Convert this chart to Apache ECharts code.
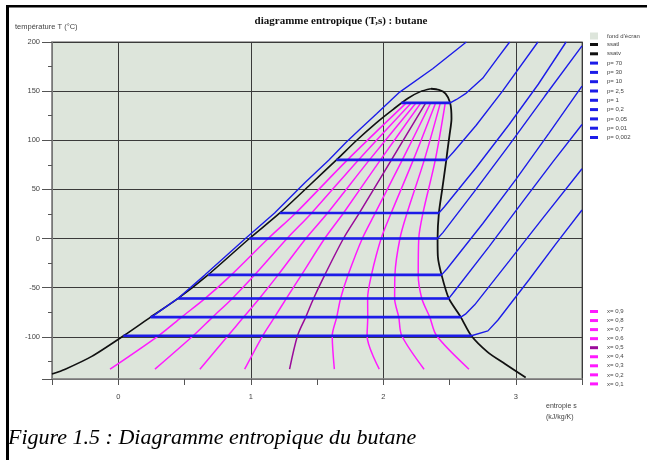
<!DOCTYPE html>
<html><head><meta charset="utf-8">
<script src="https://cdn.jsdelivr.net/npm/echarts@6/dist/echarts.min.js"></script>
<style>html,body{margin:0;padding:0;background:#fff}#c{width:647px;height:460px}</style>
</head><body><div id="c"></div><script>
// ---- data (entropy s in kJ/kg/K, temperature T in °C) ----
const satLiquid = [[-0.5,-138],[-0.40,-133],[-0.2,-120],[0.04,-99],[0.244,-80],[0.452,-61],[0.678,-37],[0.99,0],[1.22,26],[1.45,55],[1.647,80],[1.80,100],[1.95,118],[2.08,132],[2.19,143],[2.28,149.5],[2.36,152.4]];
const satVapour = [[2.36,152.4],[2.42,151.2],[2.47,147.5],[2.505,138],[2.515,122],[2.50,105],[2.485,90],[2.476,80],[2.445,50],[2.42,26],[2.41,0],[2.412,-18],[2.44,-37],[2.495,-61],[2.585,-80],[2.665,-99],[2.788,-115.6],[2.92,-127.7],[3.075,-141.6]];

const isoP70   = [[0.25,-80],[0.45,-61],[0.655,-37],[0.96,0],[1.18,26],[1.41,57],[1.59,80],[1.72,98],[1.83,112],[1.95,127],[2.124,149],[2.373,172.8],[2.627,200]];
const isoP30   = [[2.137,138],[2.505,138],[2.553,141.5],[2.627,148],[2.75,163],[2.86,183],[2.954,200]];
const isoP10   = [[1.647,80],[2.476,80],[2.53,88],[2.70,115],[2.90,150],[3.167,200]];
const isoP2_5  = [[1.22,26],[2.42,26],[2.46,32],[2.70,72],[2.95,116],[3.17,157],[3.38,200]];
const isoP1    = [[0.99,0],[2.41,0],[2.45,6],[2.70,50],[2.95,95],[3.22,145],[3.5,196]];
const isoP0_2  = [[0.678,-37],[2.44,-37],[2.48,-31],[2.75,15],[3.00,60],[3.25,107],[3.5,155]];
const isoP0_05 = [[0.452,-61],[2.495,-61],[2.53,-55],[2.80,-8],[3.05,37],[3.28,78],[3.5,116]];
const isoP0_01 = [[0.244,-80],[2.585,-80],[2.62,-77],[2.69,-67.5],[2.95,-23],[3.20,20],[3.5,71]];
const isoP0_002= [[0.04,-99],[2.665,-99],[2.79,-94],[2.866,-83],[3.1,-42],[3.3,-6],[3.5,29]];

const pLabels = ['p= 70','p= 30','p= 10','p= 2,5','p= 1','p= 0,2','p= 0,05','p= 0,01','p= 0,002'];

// quality lines: entropy read at these temperature levels
const tLevels = [-133,-99,-80,-61,-37,0,26,80,138];
const x09 = [2.647,2.403,2.351,2.291,2.264,2.268,2.30,2.393,2.468];
const x08 = [2.308,2.14,2.117,2.086,2.088,2.126,2.18,2.31,2.431];
const x07 = [1.970,1.878,1.883,1.882,1.911,1.984,2.06,2.227,2.395];
const x06 = [1.631,1.615,1.649,1.678,1.735,1.842,1.94,2.144,2.358];
const x05 = [1.293,1.353,1.415,1.474,1.559,1.70,1.82,2.062,2.321];
const x04 = [0.954,1.09,1.18,1.269,1.383,1.558,1.70,1.979,2.284];
const x03 = [0.616,0.828,0.946,1.065,1.207,1.416,1.58,1.896,2.247];
const x02 = [0.277,0.565,0.712,0.861,1.03,1.274,1.46,1.813,2.211];
const x01 = [-0.062,0.303,0.478,0.656,0.854,1.132,1.34,1.73,2.174];
const xLabels = ['x= 0,9','x= 0,8','x= 0,7','x= 0,6','x= 0,5','x= 0,4','x= 0,3','x= 0,2','x= 0,1'];

// ---- styling / assembly ----
const BLUE = '#1c1ce8', MAG = '#ff1aff', PURPLE = '#9a0a9a', BG = '#dde5db';
const pLines = [isoP70,isoP30,isoP10,isoP2_5,isoP1,isoP0_2,isoP0_05,isoP0_01,isoP0_002];
const xLines = [x09,x08,x07,x06,x05,x04,x03,x02,x01];

const series = [];
series.push({name:"fond d'écran", type:'line', data:[], color:BG, symbol:'none'});
xLines.forEach((arr,i)=>{
  const col = xLabels[i]==='x= 0,5' ? PURPLE : MAG;
  series.push({name:xLabels[i], type:'line', color:col, symbol:'none', smooth:0.3,
    lineStyle:{color:col,width:1.5}, data: arr.map((s,k)=>[s,tLevels[k]]), z:2});
});
series.push({name:'ssatl', type:'line', color:'#111', symbol:'none', smooth:0.25, lineStyle:{color:'#111',width:1.6}, data:satLiquid, z:3});
series.push({name:'ssatv', type:'line', color:'#111', symbol:'none', smooth:0.25, lineStyle:{color:'#111',width:1.8}, data:satVapour, z:3});
pLines.forEach((arr,i)=>{
  series.push({name:pLabels[i], type:'line', color:BLUE, symbol:'none', lineStyle:{color:BLUE,width:1.4}, data:arr, z:4});
  if(i>0){
    series.push({name:'_bar'+i, type:'line', color:BLUE, symbol:'none', lineStyle:{color:BLUE,width:2.6}, data:arr.slice(0,2), z:4});
  }
});

const legendBase = {orient:'vertical', left:590, padding:0, itemWidth:8, itemHeight:3, itemGap:1.3, icon:'rect',
  selectedMode:false, textStyle:{fontSize:6, lineHeight:8, color:'#444', fontFamily:'Liberation Sans', padding:[0,0,0,4]}};

const chart = echarts.init(document.getElementById('c'), null, {renderer:'canvas'});
chart.setOption({
  animation:false,
  backgroundColor:'#ffffff',
  title:{text:'diagramme entropique (T,s) : butane', left:341, top:16, padding:0, textAlign:'center',
    textStyle:{fontFamily:'Liberation Serif', fontWeight:'bold', fontSize:11, color:'#111'}},
  grid:{left:52, right:65, top:42, height:337, show:true, backgroundColor:BG, borderColor:'#8c8c8c', borderWidth:1.5, containLabel:false},
  legend:[
    Object.assign({}, legendBase, {top:32, itemHeight:7, data:["fond d'écran"]}),
    Object.assign({}, legendBase, {top:40.5, data:['ssatl','ssatv'].concat(pLabels)}),
    Object.assign({}, legendBase, {top:307.5, itemGap:1.05, data:xLabels})
  ],
  xAxis:[
    {type:'value', min:-0.5, max:3.5, interval:0.5,
     axisLine:{show:true, onZero:false, lineStyle:{color:'#8c8c8c', width:1.5}},
     axisTick:{show:true, length:6, lineStyle:{color:'#555'}},
     axisLabel:{fontSize:7.5, color:'#444', margin:14, fontFamily:'Liberation Sans',
       formatter:v=> (Math.abs(v-Math.round(v))<1e-9 ? String(Math.round(v)) : '')},
     splitLine:{show:false}},
    {type:'value', min:-0.5, max:3.5, splitNumber:4, position:'bottom',
     axisLine:{show:false}, axisTick:{show:false}, axisLabel:{show:false},
     splitLine:{show:true, lineStyle:{color:'#3a3a3a', width:1}}}
  ],
  yAxis:{type:'value', min:-143, max:200, splitNumber:7,
    axisLine:{show:true, onZero:false, lineStyle:{color:'#8c8c8c', width:1.5}},
    axisTick:{show:true, length:10, lineStyle:{color:'#555'}},
    minorTick:{show:true, splitNumber:2, length:4, lineStyle:{color:'#555'}},
    axisLabel:{fontSize:7.5, color:'#444', margin:12, showMinLabel:false, fontFamily:'Liberation Sans'},
    splitLine:{show:true, lineStyle:{color:'#3a3a3a', width:1}}},
  graphic:[
    {type:'rect', shape:{x:6, y:5, width:3, height:455}, style:{fill:'#000'}, silent:true},
    {type:'rect', shape:{x:6, y:5, width:641, height:2.5}, style:{fill:'#000'}, silent:true},
    {type:'text', left:15, top:23, style:{text:'température T (°C)', fontSize:7.5, fill:'#444', fontFamily:'Liberation Sans'}},
    {type:'text', left:546, top:401, style:{text:'entropie s\n(kJ/kg/K)', fontSize:7, lineHeight:11, fill:'#444', fontFamily:'Liberation Sans'}},
    {type:'text', left:8, top:427, style:{text:'Figure 1.5 : Diagramme entropique du butane', fontSize:22, fontStyle:'italic', fill:'#000', fontFamily:'Liberation Serif'}}
  ],
  series: series.map(s=>Object.assign({xAxisIndex:0, yAxisIndex:0}, s))
});
</script></body></html>
